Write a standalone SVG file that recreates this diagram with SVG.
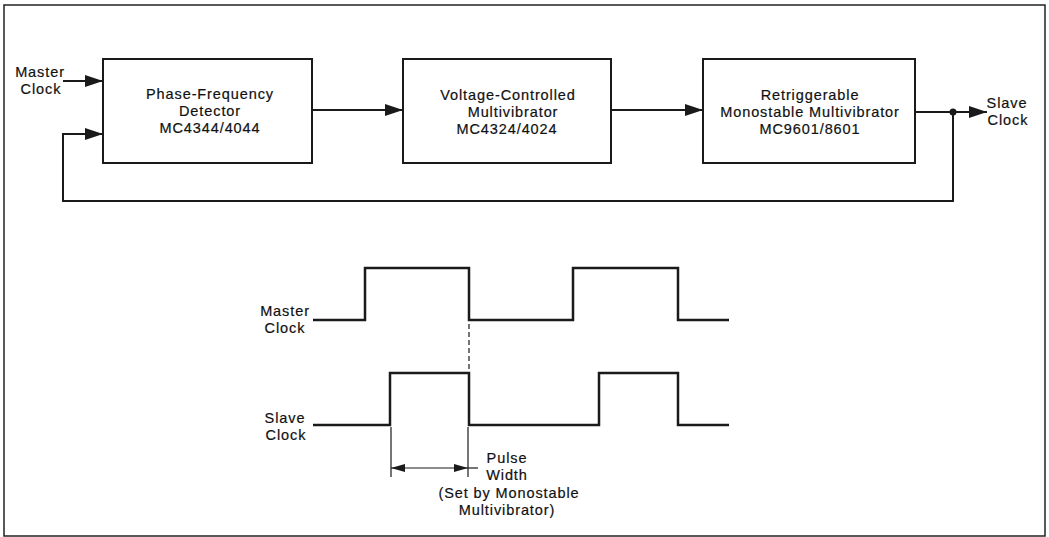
<svg xmlns="http://www.w3.org/2000/svg" width="1049" height="537" viewBox="0 0 1049 537">
  <style>
    .frame { fill: none; stroke: #222; stroke-width: 1.5; }
    .box { fill: #fff; stroke: #1a1a1a; stroke-width: 2; }
    .wire { fill: none; stroke: #1a1a1a; stroke-width: 2; }
    .wave { fill: none; stroke: #1a1a1a; stroke-width: 2.5; stroke-linejoin: miter; }
    .thin { fill: none; stroke: #1a1a1a; stroke-width: 1.2; }
    .dash { fill: none; stroke: #1a1a1a; stroke-width: 1.2; stroke-dasharray: 5 3; }
    text { font-family: "Liberation Sans", Arial, sans-serif; font-size: 14.5px; letter-spacing: 0.9px; fill: #111; stroke: #111; stroke-width: 0.2; }
    .c { text-anchor: middle; }
  </style>
  <defs>
    <marker id="arrow" viewBox="0 0 18 12" refX="18" refY="6" markerWidth="18" markerHeight="12" markerUnits="userSpaceOnUse" orient="auto">
      <path d="M0,0 L18,6 L0,12 Z" fill="#1a1a1a"/>
    </marker>
    <marker id="dimarrow" viewBox="0 0 14 8" refX="14" refY="4" markerWidth="14" markerHeight="8" markerUnits="userSpaceOnUse" orient="auto-start-reverse">
      <path d="M0,0 L14,4 L0,8 Z" fill="#1a1a1a"/>
    </marker>
  </defs>

  <rect class="frame" x="4" y="5" width="1041" height="531"/>

  <!-- block diagram connectors -->
  <g id="connectors">
    <line class="wire" x1="63" y1="81" x2="103" y2="81" marker-end="url(#arrow)"/>
    <line class="wire" x1="312" y1="110" x2="403" y2="110" marker-end="url(#arrow)"/>
    <line class="wire" x1="611" y1="110" x2="703" y2="110" marker-end="url(#arrow)"/>
    <line class="wire" x1="915" y1="112" x2="987" y2="112" marker-end="url(#arrow)"/>
    <polyline class="wire" points="953,112 953,201 63,201 63,134 103,134" marker-end="url(#arrow)"/>
    <circle cx="953" cy="112" r="3.5" fill="#1a1a1a"/>
  </g>

  <g id="master-clock-in">
    <text x="40" y="77" class="c">Master</text>
    <text x="41" y="94" class="c">Clock</text>
  </g>

  <g id="phase-detector">
    <rect class="box" x="103" y="59" width="209" height="104"/>
    <text x="210" y="99" class="c">Phase-Frequency</text>
    <text x="210" y="116" class="c">Detector</text>
    <text x="210" y="133" class="c">MC4344/4044</text>
  </g>

  <g id="vco">
    <rect class="box" x="403" y="59" width="208" height="104"/>
    <text x="508" y="100" class="c">Voltage-Controlled</text>
    <text x="513" y="117" class="c">Multivibrator</text>
    <text x="507" y="134" class="c">MC4324/4024</text>
  </g>

  <g id="monostable">
    <rect class="box" x="703" y="59" width="212" height="104"/>
    <text x="810" y="100" class="c">Retriggerable</text>
    <text x="810" y="117" class="c">Monostable Multivibrator</text>
    <text x="810" y="134" class="c">MC9601/8601</text>
  </g>

  <g id="slave-clock-out">
    <text x="1007" y="108" class="c">Slave</text>
    <text x="1008" y="125" class="c">Clock</text>
  </g>

  <!-- timing waveforms -->
  <g id="master-wave">
    <text x="285" y="316" class="c">Master</text>
    <text x="285" y="333" class="c">Clock</text>
    <polyline class="wave" points="313,320 365,320 365,268 469,268 469,320 573,320 573,268 678,268 678,320 729,320"/>
  </g>

  <g id="slave-wave">
    <text x="285" y="423" class="c">Slave</text>
    <text x="286" y="440" class="c">Clock</text>
    <polyline class="wave" points="313,425 390,425 390,373 469,373 469,425 599,425 599,373 678,373 678,425 729,425"/>
  </g>

  <g id="pulse-width">
    <line class="dash" x1="469" y1="324" x2="469" y2="371"/>
    <line class="thin" x1="391" y1="427" x2="391" y2="477"/>
    <line class="thin" x1="468" y1="427" x2="468" y2="477"/>
    <line class="thin" x1="391" y1="468" x2="468" y2="468" marker-start="url(#dimarrow)" marker-end="url(#dimarrow)"/>
    <line class="thin" x1="468" y1="468" x2="478" y2="468"/>
    <text x="507" y="463" class="c">Pulse</text>
    <text x="507" y="480" class="c">Width</text>
    <text x="509" y="498" class="c">(Set by Monostable</text>
    <text x="507" y="515" class="c">Multivibrator)</text>
  </g>
</svg>
